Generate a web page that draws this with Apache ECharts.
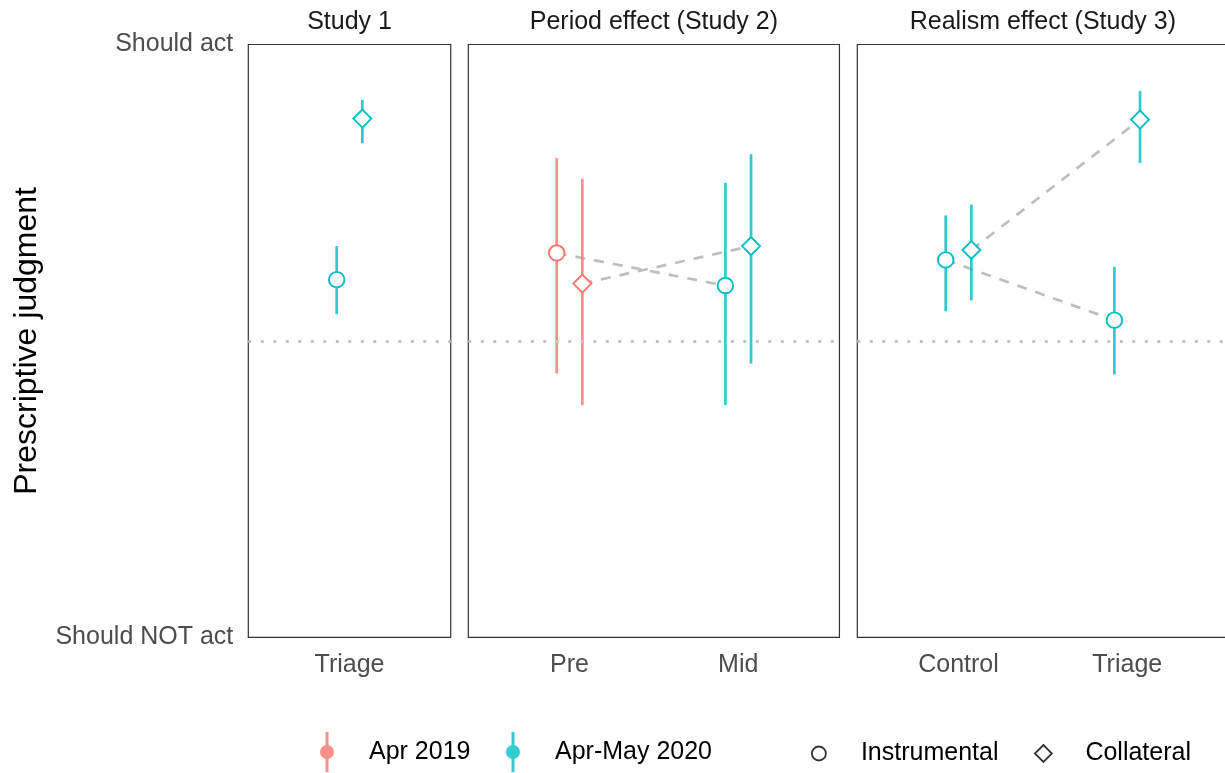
<!DOCTYPE html>
<html><head><meta charset="utf-8">
<script src="https://cdn.jsdelivr.net/npm/echarts@6/dist/echarts.min.js"></script>
<style>html,body{margin:0;padding:0;background:#fff;overflow:hidden}#chart{width:1232px;height:773px}</style>
</head><body><div id="chart"></div>
<script>
// ---------------- data ----------------
const panelTitles = ['Study 1', 'Period effect (Study 2)', 'Realism effect (Study 3)'];
const study1Categories = ['Triage'];
const study2Categories = ['Pre', 'Mid'];
const study3Categories = ['Control', 'Triage'];
const study1Period = ['Apr-May 2020'];
const study2Period = ['Apr 2019', 'Apr-May 2020'];
const study3Period = ['Apr-May 2020', 'Apr-May 2020'];
// [mean, lower, upper] for each category
const study1Instrumental = [[4.62, 4.27, 4.96]];
const study1Collateral   = [[6.25, 6.00, 6.44]];
const study2Instrumental = [[4.89, 3.67, 5.85], [4.56, 3.35, 5.60]];
const study2Collateral   = [[4.58, 3.35, 5.64], [4.96, 3.77, 5.89]];
const study3Instrumental = [[4.82, 4.30, 5.27], [4.21, 3.66, 4.75]];
const study3Collateral   = [[4.92, 4.41, 5.38], [6.24, 5.80, 6.53]];
const periods = ['Apr 2019', 'Apr-May 2020'];
const judgments = ['Instrumental', 'Collateral'];
const yTickLabels = ['Should NOT act', 'Should act'];
const yScaleMin = 1, yScaleMax = 7, yMidpoint = 4;

// ---------------- styling / layout ----------------
const FONT = "'Liberation Sans', Arial, Helvetica, sans-serif";
const periodColors = ['#F8766D', '#00BFC4'];
const judgmentSymbols = ['circle', 'path://M0,-1 L1,0 L0,1 L-1,0 Z'];
const judgmentSizes = [15.5, 18];
const dodge = [-0.076, 0.076];
const gridTop = 44.5, gridHeight = 592.8;
const gridLefts = [248.3, 468.3, 857.3];
const unit = 168.7;

const panels = [
  {cats: study1Categories, period: study1Period, values: [study1Instrumental, study1Collateral]},
  {cats: study2Categories, period: study2Period, values: [study2Instrumental, study2Collateral]},
  {cats: study3Categories, period: study3Period, values: [study3Instrumental, study3Collateral]}
];

const grids = [], xAxes = [], yAxes = [], series = [], graphics = [];
panels.forEach((p, gi) => {
  const n = p.cats.length;
  const w = (n + 0.2) * unit;
  grids.push({left: gridLefts[gi], top: gridTop, width: w, height: gridHeight,
    show: true, borderColor: '#333', borderWidth: 1.2, backgroundColor: 'transparent', containLabel: false});
  xAxes.push({type: 'value', gridIndex: gi, min: 0.4, max: n + 0.6,
    axisLine: {show: false}, axisTick: {show: false}, splitLine: {show: false},
    axisLabel: {show: true, customValues: p.cats.map((c, i) => i + 1),
      formatter: v => p.cats[Math.round(v) - 1] || '',
      fontSize: 25, color: '#4d4d4d', fontFamily: FONT, margin: 15}});
  yAxes.push({type: 'value', gridIndex: gi, min: yScaleMin, max: yScaleMax,
    axisLine: {show: false}, axisTick: {show: false}, splitLine: {show: false},
    name: gi === 0 ? 'Prescriptive judgment' : '',
    nameLocation: 'middle', nameRotate: 90, nameGap: 205,
    nameTextStyle: {fontSize: 32, color: '#000', fontFamily: FONT},
    axisLabel: {show: gi === 0, customValues: [yScaleMin, yScaleMax],
      formatter: v => (v === yScaleMin ? yTickLabels[0] : yTickLabels[1]),
      padding: [4, 0, 0, 0],
      fontSize: 25, color: '#4d4d4d', fontFamily: FONT, margin: 15}});

  graphics.push({type: 'text', x: gridLefts[gi] + w / 2, y: 22,
    style: {text: panelTitles[gi], textAlign: 'center', textVerticalAlign: 'middle',
      font: '25px ' + FONT, fill: '#1a1a1a'}});

  p.values.forEach((vals, ji) => {
    // connecting dashed line
    if (n > 1) {
      series.push({type: 'line', xAxisIndex: gi, yAxisIndex: gi, z: 1,
        symbol: 'none', silent: true,
        lineStyle: {color: '#bebebe', width: 2.7, type: [10, 9]},
        data: vals.map((v, i) => [i + 1 + dodge[ji], v[0]])});
    }
    // error bars
    series.push({type: 'custom', xAxisIndex: gi, yAxisIndex: gi, z: 2, silent: true,
      encode: {x: 0, y: [1, 2]},
      data: vals.map((v, i) => [i + 1 + dodge[ji], v[1], v[2], periods.indexOf(p.period[i])]),
      renderItem: (params, api) => {
        const a = api.coord([api.value(0), api.value(1)]);
        const b = api.coord([api.value(0), api.value(2)]);
        return {type: 'line', shape: {x1: a[0], y1: a[1], x2: b[0], y2: b[1]},
          style: {stroke: periodColors[api.value(3)], lineWidth: 2.7, opacity: 0.82}};
      }});
    // points
    const s = {type: 'scatter', xAxisIndex: gi, yAxisIndex: gi, z: 5, silent: true,
      symbol: judgmentSymbols[ji], symbolSize: judgmentSizes[ji],
      itemStyle: {color: '#fff', borderWidth: 1.9, opacity: 1},
      data: vals.map((v, i) => ({value: [i + 1 + dodge[ji], v[0]],
        itemStyle: {borderColor: periodColors[periods.indexOf(p.period[i])]}}))};
    if (ji === 0) {
      s.markLine = {silent: true, symbol: 'none', animation: false,
        label: {show: false},
        lineStyle: {color: '#c2c2c2', width: 2.8, type: [3, 9.5]},
        data: [{yAxis: yMidpoint}]};
    }
    series.push(s);
  });
});

// legend helper series (no data)
const pointRangeIcon = 'path://M-1.5,0 L1.5,0 L1.5,40 L-1.5,40 Z M0,13 A7,7 0 0,1 0,27 A7,7 0 0,1 0,13 Z';
periods.forEach((name, i) => series.push({type: 'scatter', name, data: [], xAxisIndex: 0, yAxisIndex: 0,
  itemStyle: {color: periodColors[i]}}));
judgments.forEach((name, i) => series.push({type: 'scatter', name, data: [], xAxisIndex: 0, yAxisIndex: 0,
  itemStyle: {color: '#fff', borderColor: '#000', borderWidth: 1.8}}));

const legendBase = {orient: 'horizontal', padding: 0, selectedMode: false, itemWidth: 74,
  textStyle: {fontSize: 25, color: '#000', fontFamily: FONT}};
const periodText = {fontSize: 25, color: '#000', fontFamily: FONT, padding: [5, 0, 0, 0]};
const legends = [
  Object.assign({}, legendBase, {left: 320, top: 732, itemHeight: 40, textStyle: periodText,
    data: [{name: periods[0], icon: pointRangeIcon, itemStyle: {color: periodColors[0], borderWidth: 0}}]}),
  Object.assign({}, legendBase, {left: 506, top: 732, itemHeight: 40, textStyle: periodText,
    data: [{name: periods[1], icon: pointRangeIcon, itemStyle: {color: periodColors[1], borderWidth: 0}}]}),
  Object.assign({}, legendBase, {left: 811, top: 741, itemHeight: 14,
    data: [{name: judgments[0], icon: 'circle', itemStyle: {color: '#fff', borderColor: '#000', borderWidth: 1.8}}]}),
  Object.assign({}, legendBase, {left: 1034, top: 741, itemHeight: 17,
    data: [{name: judgments[1], icon: judgmentSymbols[1], itemStyle: {color: '#fff', borderColor: '#000', borderWidth: 1.8}}]})
];

const chart = echarts.init(document.getElementById('chart'), null, {renderer: 'canvas'});
chart.setOption({
  animation: false,
  backgroundColor: '#fff',
  grid: grids, xAxis: xAxes, yAxis: yAxes,
  legend: legends,
  graphic: graphics,
  series
});
</script></body></html>
